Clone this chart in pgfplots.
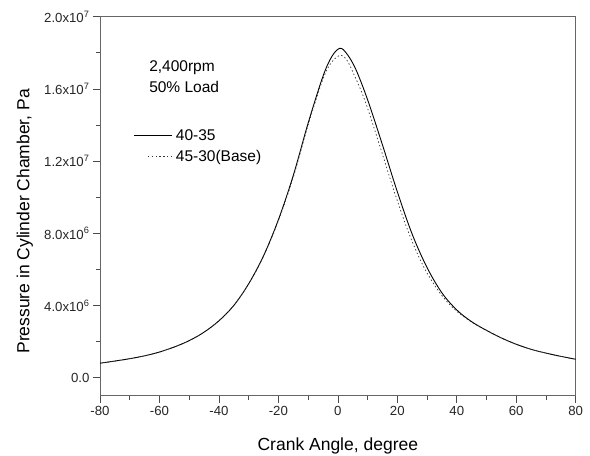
\documentclass[border=0pt]{standalone}
\usepackage{fontspec}
\setmainfont{Liberation Sans}
\usepackage{pgfplots}
\pgfplotsset{compat=1.18}
\begin{document}
\begin{tikzpicture}
\path[use as bounding box] (-100bp,-60.3bp) rectangle (490bp,395.7bp);
\begin{axis}[
  scale only axis, width=475.7bp, height=379bp,
  at={(0,0)}, anchor=south west,
  xmin=-80, xmax=80, ymin=-1e6, ymax=2e7,
  xtick={-80,-60,-40,-20,0,20,40,60,80}, minor x tick num=1,
  ytick={0,4e6,8e6,12e6,16e6,20e6}, minor y tick num=1,
  yticklabels={0.0,4.0x10\textsuperscript{6},8.0x10\textsuperscript{6},1.2x10\textsuperscript{7},1.6x10\textsuperscript{7},2.0x10\textsuperscript{7}},
  xticklabels={-80,-60,-40,-20,0,20,40,60,80},
  scaled y ticks=false, scaled x ticks=false,
  xtick pos=bottom, ytick pos=left, tick align=outside,
  major tick length=7bp, minor tick length=4bp,
  tick style={black!70, line width=0.6pt},
  axis line style={black!60, line width=0.9pt},
  ticklabel style={font=\fontsize{13.2bp}{15bp}\selectfont, text=black!85},
  xlabel={Crank Angle, degree},
  ylabel={Pressure in Cylinder Chamber, Pa},
  label style={font=\fontsize{17.5bp}{20bp}\selectfont},
  xlabel style={at={(axis description cs:0.5,-0.132)}, anchor=center},
  ylabel style={at={(axis description cs:-0.158,0.46)}, anchor=center},
  legend style={at={(axis cs:-68.8,13.85e6)}, anchor=north west, draw=none, fill=none,
    font=\fontsize{15.5bp}{18bp}\selectfont, row sep=5.5bp, inner sep=0pt,
    nodes={inner sep=1.5bp}, column sep=2bp},
  legend cell align=left,
  legend image code/.code={\draw[#1] (0bp,0bp) -- (38bp,0bp);},
]
\addplot[black, line width=0.9pt, smooth, tension=0.55] coordinates {
(-80,0.80e6) (-75,0.92e6) (-70,1.05e6) (-65,1.21e6) (-60,1.42e6) (-55,1.7e6) (-50,2.05e6) (-45,2.52e6) (-40,3.15e6)
(-35,4.0e6) (-30,5.2e6) (-25,6.75e6) (-20,8.75e6) (-15,11.2e6) (-10,14.1e6)
(-5,16.7e6) (-2,17.8e6) (0.7,18.25e6) (3,17.95e6) (6,17.1e6) (10,15.4e6)
(15,12.9e6) (20,10.3e6) (25,7.95e6) (30,6.1e6) (35,4.7e6) (40,3.75e6)
(45,3.1e6) (50,2.62e6) (55,2.2e6) (60,1.85e6) (65,1.57e6) (70,1.36e6) (75,1.18e6) (80,1.02e6)
};
\addlegendentry{40-35}
\addplot[black!80, line width=0.7pt, dash pattern=on 1.4bp off 2.4bp, smooth, tension=0.55,
  legend image code/.code={\draw[black!80, line width=0.7pt, dash pattern=on 1.4bp off 2.4bp] (14bp,0bp) -- (38bp,0bp);}] coordinates {
(-80,0.80e6) (-75,0.92e6) (-70,1.05e6) (-65,1.21e6) (-60,1.42e6) (-55,1.7e6) (-50,2.05e6) (-45,2.52e6) (-40,3.15e6)
(-35,4.0e6) (-30,5.2e6) (-25,6.72e6) (-20,8.7e6) (-15,11.1e6) (-10,14.0e6)
(-5,16.55e6) (-2,17.5e6) (1,17.87e6) (3,17.6e6) (5,16.95e6) (9,15.4e6)
(14,12.9e6) (19,10.3e6) (24,7.95e6) (29,6.1e6) (34.3,4.7e6) (39.5,3.75e6)
(45,3.08e6) (50,2.62e6) (55,2.2e6) (60,1.85e6) (65,1.57e6) (70,1.36e6) (75,1.18e6) (80,1.02e6)
};
\addlegendentry{45-30(Base)}
\node[anchor=west, inner sep=0pt, font=\fontsize{15.5bp}{18bp}\selectfont] at (axis cs:-63.5,17.2e6) {2,400rpm};
\node[anchor=west, inner sep=0pt, font=\fontsize{15.5bp}{18bp}\selectfont] at (axis cs:-63.5,16.1e6) {50\% Load};
\end{axis}
\end{tikzpicture}
\end{document}
